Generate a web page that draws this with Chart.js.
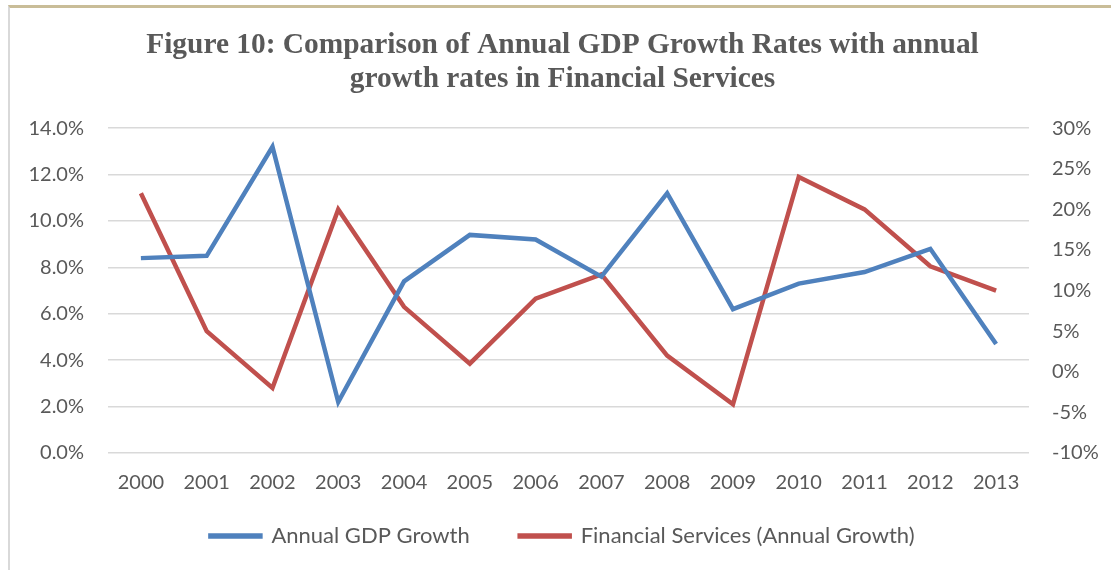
<!DOCTYPE html>
<html>
<head>
<meta charset="utf-8">
<script src="https://cdn.jsdelivr.net/npm/chart.js@4/dist/chart.umd.min.js"></script>
<style>
  html, body { margin:0; padding:0; background:#fff; overflow:hidden; }
  #wrap {
    position:absolute; left:8px; top:5px; width:1117px; height:565px;
    border-top:3px solid #c9bd98; border-left:2px solid #d9d9d9;
    box-sizing:border-box;
  }
  canvas { display:block; }
</style>
</head>
<body>
<div id="wrap"><canvas id="chart" width="1115" height="562"></canvas></div>
<script>
// years on the x axis
const years = ['2000','2001','2002','2003','2004','2005','2006','2007','2008','2009','2010','2011','2012','2013'];
// left axis, percent
const gdpGrowth = [8.4, 8.5, 13.2, 2.2, 7.4, 9.4, 9.2, 7.6, 11.2, 6.2, 7.3, 7.8, 8.8, 4.7];
// right axis, percent
const finServices = [22, 5, -2, 20, 8, 1, 9, 12, 2, -4, 24, 20, 13, 10];

const titleLines = ['Figure 10: Comparison of Annual GDP Growth Rates with annual', 'growth rates in Financial Services'];
const seriesNames = ['Annual GDP Growth', 'Financial Services (Annual Growth)'];

const blue = '#4f81bd';
const red = '#c0504d';
const txt = '#595959';
const sans = 'Lato, "Open Sans", sans-serif';

// legend: keep the wide gap between items but not the tall box that goes with it
const legendFix = {
  id: 'legendFix',
  afterInit(chart) {
    const lg = chart.legend;
    const fit = lg.fit;
    lg.fit = function() { fit.call(this); this.height = 40; };
  },
  afterLayout(chart) {
    const lg = chart.legend;
    lg.top = 528 - 50 - 11;
    lg.height = 90;
    lg.bottom = lg.top + lg.height;
  }
};

const ctx = document.getElementById('chart').getContext('2d');
new Chart(ctx, {
  type: 'line',
  data: {
    labels: years,
    datasets: [
      { label: seriesNames[0], data: gdpGrowth, yAxisID: 'y', borderColor: blue, backgroundColor: blue,
        borderWidth: 4.5, pointRadius: 0, tension: 0 },
      { label: seriesNames[1], data: finServices, yAxisID: 'y2', borderColor: red, backgroundColor: red,
        borderWidth: 4.5, pointRadius: 0, tension: 0 }
    ]
  },
  plugins: [legendFix],
  options: {
    responsive: false,
    animation: false,
    layout: { padding: { left: 0, right: 10, top: 0, bottom: 17 } },
    plugins: {
      title: {
        display: true, text: titleLines, color: txt,
        font: { family: '"Liberation Serif", "Times New Roman", serif', size: 29.4, weight: 'bold', lineHeight: 1.16 },
        padding: { top: 20, bottom: 32 }
      },
      legend: {
        position: 'bottom',
        labels: {
          color: txt, boxWidth: 50, boxHeight: 1, padding: 50,
          font: { family: sans, size: 22 }
        }
      },
      tooltip: { enabled: false }
    },
    scales: {
      x: {
        offset: true,
        grid: { display: false, drawTicks: false },
        border: { display: false },
        ticks: { color: txt, padding: 18, font: { family: sans, size: 20 } }
      },
      y: {
        position: 'left', min: 0, max: 14,
        grid: { color: '#d9d9d9', lineWidth: 1.5, drawTicks: false },
        border: { display: false },
        ticks: { stepSize: 2, color: txt, padding: 24, font: { family: sans, size: 20 },
          callback: v => v.toFixed(1) + '%' },
        afterFit: s => { s.width = 98; }
      },
      y2: {
        position: 'right', min: -10, max: 30,
        grid: { display: false, drawTicks: false },
        border: { display: false },
        ticks: { stepSize: 5, color: txt, padding: 23, font: { family: sans, size: 20 },
          callback: v => v + '%' },
        afterFit: s => { s.width = 86; }
      }
    }
  }
});
</script>
</body>
</html>
